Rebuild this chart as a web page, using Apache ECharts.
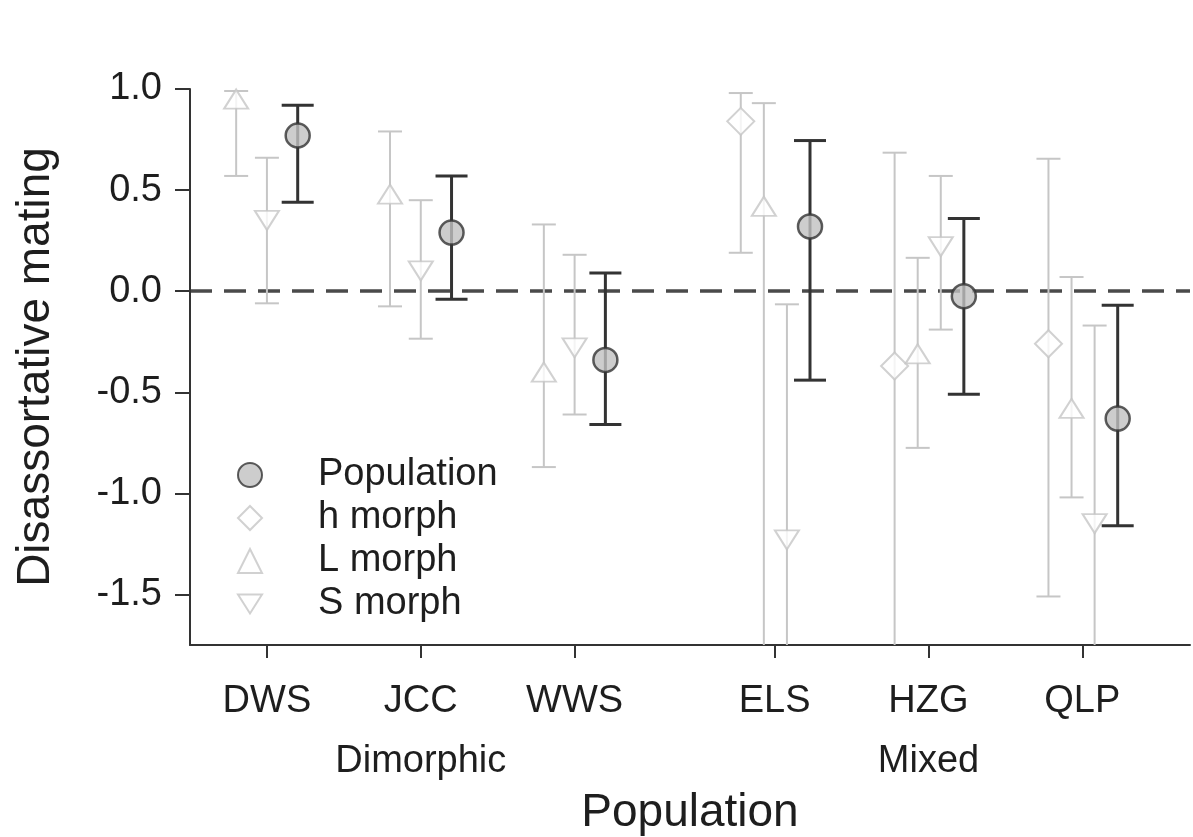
<!DOCTYPE html>
<html>
<head>
<meta charset="utf-8">
<script src="https://cdn.jsdelivr.net/npm/echarts@6/dist/echarts.min.js"></script>
<style>
html,body{margin:0;padding:0;background:#fff;}
#chart{width:1193px;height:837px;}
</style>
</head>
<body>
<div id="chart"></div>
<script>
// ---- data ----
const categories = ['DWS', 'JCC', 'WWS', 'ELS', 'HZG', 'QLP'];
const groupNames = ['Dimorphic', 'Mixed'];
const groupCenters = [1, 4];          // index of category under which group label sits
const yTicks = [-1.5, -1.0, -0.5, 0.0, 0.5, 1.0];

const popMean = [0.77, 0.29, -0.34, 0.32, -0.025, -0.63];
const popLow  = [0.44, -0.04, -0.66, -0.44, -0.51, -1.16];
const popHigh = [0.92, 0.57, 0.09, 0.745, 0.36, -0.07];

const hMean = [null, null, null, 0.84, -0.37, -0.26];
const hLow  = [null, null, null, 0.19, -2.0, -1.51];
const hHigh = [null, null, null, 0.98, 0.685, 0.655];

const lMean = [0.95, 0.48, -0.40, 0.42, -0.31, -0.58];
const lLow  = [0.57, -0.075, -0.87, -2.0, -0.775, -1.02];
const lHigh = [0.99, 0.79, 0.33, 0.93, 0.165, 0.07];

const sMean = [0.35, 0.10, -0.28, -1.23, 0.22, -1.15];
const sLow  = [-0.06, -0.235, -0.61, -2.0, -0.19, -2.0];
const sHigh = [0.66, 0.45, 0.18, -0.065, 0.57, -0.17];

// ---- layout (positions on the x value axis) ----
const catPos = [1, 2, 3, 4.3, 5.3, 6.3];
const isMixed = [false, false, false, true, true, true];
const offsets = {
  pop: [0.2, 0.23],
  h:   [0, -0.22],
  L:   [-0.2, -0.07],
  S:   [0, 0.08]
};
const Y_MIN = -1.75, Y_MAX = 1.0;
const FONT = '"Liberation Sans", Arial, sans-serif';
const GREY = '#c6c6c6';
const DARK = '#333333';
const TXT = '#1e1e1e';

function xOf(i, key) { return catPos[i] + offsets[key][isMixed[i] ? 1 : 0]; }
function pts(mean, key) {
  const out = [];
  mean.forEach((v, i) => { if (v !== null) out.push([xOf(i, key), v]); });
  return out;
}
function bars(mean, low, high, key) {
  const out = [];
  mean.forEach((v, i) => { if (v !== null) out.push([xOf(i, key), low[i], high[i]]); });
  return out;
}
function errSeries(data, color, width, cap, z) {
  return {
    type: 'custom', z: z, silent: true, clip: true,
    data: data,
    encode: { x: 0, y: [1, 2] },
    renderItem: function (params, api) {
      const x = api.value(0);
      let lo = api.value(1), hi = api.value(2);
      const loClamped = lo < Y_MIN;
      if (loClamped) lo = Y_MIN;
      const pLo = api.coord([x, lo]);
      const pHi = api.coord([x, hi]);
      const st = { stroke: color, lineWidth: width };
      const children = [
        { type: 'line', shape: { x1: pHi[0], y1: pHi[1], x2: pLo[0], y2: pLo[1] }, style: st },
        { type: 'line', shape: { x1: pHi[0] - cap / 2, y1: pHi[1], x2: pHi[0] + cap / 2, y2: pHi[1] }, style: st }
      ];
      if (!loClamped) children.push({ type: 'line', shape: { x1: pLo[0] - cap / 2, y1: pLo[1], x2: pLo[0] + cap / 2, y2: pLo[1] }, style: st });
      return { type: 'group', children: children };
    }
  };
}

const chart = echarts.init(document.getElementById('chart'), null, { renderer: 'canvas' });
const hollow = { color: '#ffffff', borderColor: GREY, borderWidth: 2 };
const downTri = 'path://M0,0 L24,0 L12,19 Z';
const diamondIcon = 'path://M13,0 L26,13 L13,26 L0,13 Z';

chart.setOption({
  animation: false,
  backgroundColor: '#ffffff',
  textStyle: { fontFamily: FONT },
  grid: { left: 190, right: 3, top: 89, bottom: 192, outerBoundsMode: 'none', containLabel: false },
  legend: {
    orient: 'vertical', left: 232, top: 451,
    itemWidth: 24, itemHeight: 24, itemGap: 5,
    selectedMode: false,
    data: [
      { name: 'Population' },
      { name: 'h morph', icon: diamondIcon },
      { name: 'L morph' },
      { name: 'S morph', icon: downTri }
    ],
    textStyle: { fontSize: 38, color: TXT, fontFamily: FONT, lineHeight: 38, padding: [0, 0, 0, 51] }
  },
  xAxis: [{
    type: 'value', min: 0.5, max: 7,
    splitLine: { show: false },
    axisLine: { show: true, onZero: false, lineStyle: { color: DARK, width: 2 } },
    axisTick: { show: true, customValues: catPos, length: 13, lineStyle: { color: DARK, width: 2 } },
    axisLabel: {
      customValues: catPos, margin: 38, fontSize: 38, color: TXT, fontFamily: FONT,
      formatter: function (v) { const i = catPos.findIndex(p => Math.abs(p - v) < 1e-6); return i >= 0 ? categories[i] : ''; }
    }
  }, {
    type: 'value', min: 0.5, max: 7, position: 'bottom',
    splitLine: { show: false },
    axisLine: { show: false, onZero: false }, axisTick: { show: false },
    axisLabel: {
      customValues: groupCenters.map(i => catPos[i]), margin: 98, fontSize: 38, color: TXT, fontFamily: FONT,
      formatter: function (v) { const k = groupCenters.findIndex(i => Math.abs(catPos[i] - v) < 1e-6); return k >= 0 ? groupNames[k] : ''; }
    },
    name: 'Population', nameLocation: 'middle', nameGap: 145,
    nameTextStyle: { fontSize: 46, color: TXT, fontFamily: FONT }
  }],
  yAxis: {
    type: 'value', min: Y_MIN, max: Y_MAX,
    splitLine: { show: false },
    axisLine: { show: true, onZero: false, lineStyle: { color: DARK, width: 2 } },
    axisTick: { show: true, customValues: yTicks, length: 15, lineStyle: { color: DARK, width: 2 } },
    axisLabel: { customValues: yTicks, margin: 28, fontSize: 38, color: TXT, fontFamily: FONT, formatter: v => v.toFixed(1) },
    name: 'Disassortative mating', nameLocation: 'middle', nameRotate: 90, nameGap: 131,
    nameTextStyle: { fontSize: 46, color: TXT, fontFamily: FONT }
  },
  series: [
    errSeries(bars(hMean, hLow, hHigh, 'h'), GREY, 2, 24, 1),
    errSeries(bars(lMean, lLow, lHigh, 'L'), GREY, 2, 24, 1),
    errSeries(bars(sMean, sLow, sHigh, 'S'), GREY, 2, 24, 1),
    errSeries(bars(popMean, popLow, popHigh, 'pop'), DARK, 3, 32, 3),
    { name: 'h morph', type: 'scatter', z: 2, symbol: 'diamond', symbolSize: 27, itemStyle: hollow, data: pts(hMean, 'h'), silent: true },
    { name: 'L morph', type: 'scatter', z: 2, symbol: 'triangle', symbolSize: [24, 19], itemStyle: hollow, data: pts(lMean, 'L'), silent: true },
    { name: 'S morph', type: 'scatter', z: 2, symbol: 'triangle', symbolRotate: 180, symbolSize: [24, 19], itemStyle: hollow, data: pts(sMean, 'S'), silent: true },
    { name: 'Population', type: 'scatter', z: 4, symbol: 'circle', symbolSize: 24,
      itemStyle: { color: '#c0c0c0', borderColor: DARK, borderWidth: 2.5 },
      data: pts(popMean, 'pop'), silent: true,
      markLine: {
        silent: true, symbol: 'none', z: 0, label: { show: false },
        lineStyle: { color: '#4a4a4a', width: 3.5, type: [22, 12] },
        data: [{ yAxis: 0 }]
      }
    }
  ]
});
</script>
</body>
</html>
